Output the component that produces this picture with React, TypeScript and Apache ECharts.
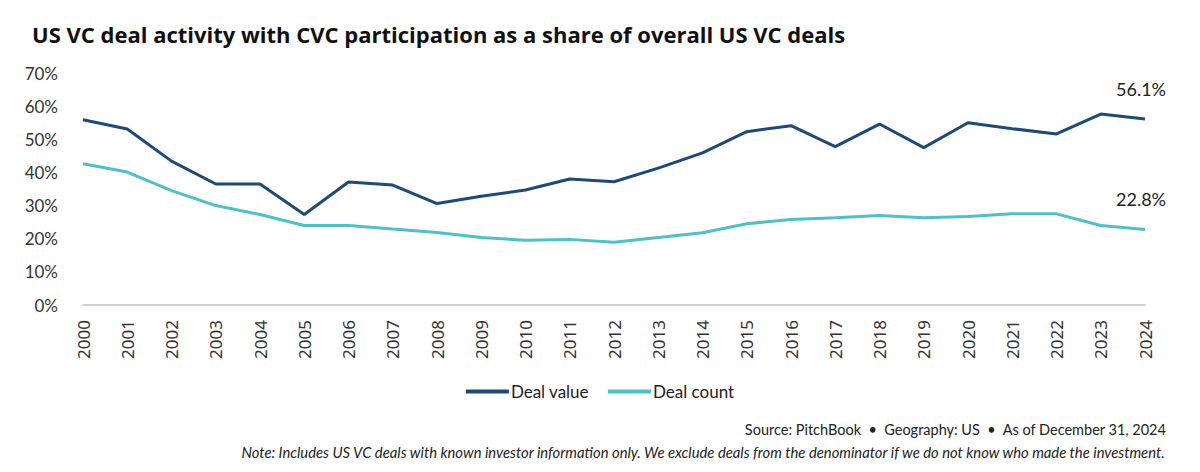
import React, { useEffect, useRef } from "react";
import * as echarts from "echarts";

const years = [
  "2000", "2001", "2002", "2003", "2004", "2005", "2006", "2007", "2008", "2009",
  "2010", "2011", "2012", "2013", "2014", "2015", "2016", "2017", "2018", "2019",
  "2020", "2021", "2022", "2023", "2024",
];

const dealValue = [
  55.9, 53.1, 43.4, 36.5, 36.5, 27.3, 37.1, 36.2, 30.6, 32.8,
  34.7, 38.0, 37.2, 41.3, 45.9, 52.3, 54.1, 47.8, 54.6, 47.5,
  55.0, 53.2, 51.6, 57.6, 56.1,
];

const dealCount = [
  42.6, 40.1, 34.5, 30.0, 27.3, 24.0, 24.0, 22.9, 21.9, 20.4,
  19.5, 19.8, 18.9, 20.4, 21.8, 24.5, 25.8, 26.3, 27.0, 26.3,
  26.7, 27.5, 27.5, 24.0, 22.8,
];

const NARROW = "Lato, 'Liberation Sans Narrow', sans-serif";
const DARK = "#1d4a78";
const CYAN = "#4bc2c7";

export default function App() {
  const chartRef = useRef<HTMLDivElement>(null);

  useEffect(() => {
    if (chartRef.current === null) return;
    const chart = echarts.init(chartRef.current, undefined, { renderer: "svg" });

    // label only the latest year
    const endLabel = (arr: number[]) =>
      arr.map((v, i) =>
        i === arr.length - 1
          ? {
              value: v,
              label: {
                show: true,
                position: "top",
                distance: 21,
                offset: [-4, 0],
                formatter: (p: any) => `${p.value.toFixed(1)}%`,
                color: "#222",
                fontSize: 18,
                fontFamily: NARROW,
              },
            }
          : v
      );

    const option: echarts.EChartsOption = {
      animation: false,
      backgroundColor: "#ffffff",
      title: [
        {
          text: "US VC deal activity with CVC participation as a share of overall US VC deals",
          left: 27,
          top: 18,
          textStyle: {
            fontFamily: "'Open Sans', 'Noto Sans', sans-serif",
            fontWeight: "bold",
            fontSize: 22,
            color: "#111",
          },
        },
        {
          text: "Source: PitchBook  •  Geography: US  •  As of December 31, 2024",
          right: 28,
          top: 417,
          textStyle: {
            fontFamily: NARROW,
            fontWeight: "normal",
            fontSize: 14.5,
            color: "#222",
          },
        },
        {
          text:
            "Note: Includes US VC deals with known investor information only. We exclude deals from the denominator if we do not know who made the investment.",
          right: 28,
          top: 439,
          textStyle: {
            fontFamily: NARROW,
            fontStyle: "italic",
            fontWeight: "normal",
            fontSize: 14.8,
            color: "#222",
          },
        },
      ],
      legend: {
        top: 378,
        left: "center",
        itemWidth: 43,
        itemHeight: 4,
        itemGap: 19,
        icon: "rect",
        textStyle: {
          fontFamily: NARROW,
          fontSize: 17,
          color: "#222",
          padding: [0, 0, 0, -3],
        },
        data: ["Deal value", "Deal count"],
      },
      grid: {
        left: 83,
        right: 55,
        top: 73,
        bottom: 167,
      },
      xAxis: {
        type: "category",
        data: years,
        boundaryGap: false,
        axisLine: { lineStyle: { color: "#d2d2d2", width: 2 } },
        axisTick: { show: false },
        axisLabel: {
          rotate: 90,
          margin: 15,
          interval: 0,
          fontFamily: "'Noto Sans', sans-serif",
          fontSize: 17,
          color: "#333",
        },
      },
      yAxis: {
        type: "value",
        min: 0,
        max: 70,
        interval: 10,
        axisLine: { show: false },
        axisTick: { show: false },
        splitLine: { show: false },
        axisLabel: {
          formatter: "{value}%",
          margin: 25,
          fontFamily: NARROW,
          fontSize: 17,
          color: "#333",
        },
      },
      series: [
        {
          name: "Deal value",
          type: "line",
          data: endLabel(dealValue) as any,
          color: DARK,
          symbol: "circle",
          symbolSize: 0,
          lineStyle: { width: 3, color: DARK },
        },
        {
          name: "Deal count",
          type: "line",
          data: endLabel(dealCount) as any,
          color: CYAN,
          symbol: "circle",
          symbolSize: 0,
          lineStyle: { width: 3, color: CYAN },
        },
      ],
    };

    chart.setOption(option);
    return () => {
      chart.dispose();
    };
  }, []);

  return (
    <div
      ref={chartRef}
      style={{ position: "absolute", left: 0, top: 0, width: 1200, height: 472 }}
    />
  );
}
